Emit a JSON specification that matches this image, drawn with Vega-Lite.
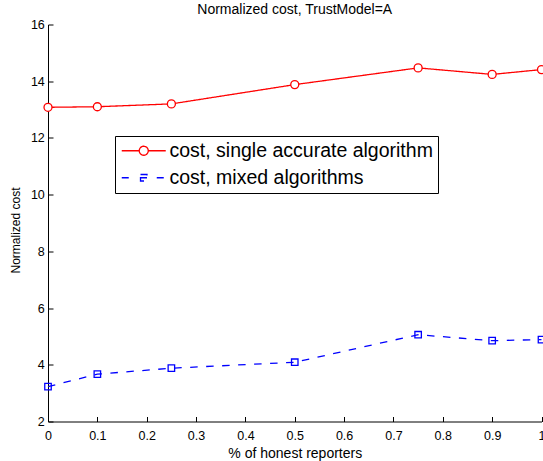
{
  "$schema": "https://vega.github.io/schema/vega-lite/v6.json",
  "autosize": {"type": "none"},
  "width": 493.5,
  "height": 397,
  "padding": {"left": 48, "top": 24.5, "right": 1.5, "bottom": 39.5},
  "background": "white",
  "title": {
    "text": "Normalized cost, TrustModel=A",
    "font": "Liberation Sans",
    "fontSize": 14,
    "fontWeight": "normal",
    "color": "black",
    "anchor": "middle",
    "frame": "group",
    "baseline": "alphabetic",
    "offset": -9
  },
  "data": {
    "values": [
      {"honest": 0, "cost": 13.08, "series": "cost, single accurate algorithm"},
      {"honest": 0.1, "cost": 13.1, "series": "cost, single accurate algorithm"},
      {"honest": 0.25, "cost": 13.2, "series": "cost, single accurate algorithm"},
      {"honest": 0.5, "cost": 13.88, "series": "cost, single accurate algorithm"},
      {"honest": 0.75, "cost": 14.47, "series": "cost, single accurate algorithm"},
      {"honest": 0.9, "cost": 14.24, "series": "cost, single accurate algorithm"},
      {"honest": 1, "cost": 14.41, "series": "cost, single accurate algorithm"},
      {"honest": 0, "cost": 3.23, "series": "cost, mixed algorithms"},
      {"honest": 0.1, "cost": 3.67, "series": "cost, mixed algorithms"},
      {"honest": 0.25, "cost": 3.88, "series": "cost, mixed algorithms"},
      {"honest": 0.5, "cost": 4.09, "series": "cost, mixed algorithms"},
      {"honest": 0.75, "cost": 5.06, "series": "cost, mixed algorithms"},
      {"honest": 0.9, "cost": 4.85, "series": "cost, mixed algorithms"},
      {"honest": 1, "cost": 4.89, "series": "cost, mixed algorithms"}
    ]
  },
  "encoding": {
    "x": {
      "field": "honest",
      "type": "quantitative",
      "scale": {"domain": [0, 1], "nice": false, "zero": false},
      "axis": {
        "title": "% of honest reporters",
        "values": [0, 0.1, 0.2, 0.3, 0.4, 0.5, 0.6, 0.7, 0.8, 0.9, 1],
        "format": "~g",
        "tickSize": -5,
        "labelPadding": 12.5,
        "labelBaseline": "top",
        "labelFlush": false,
        "labelOverlap": false,
        "titleFontSize": 14,
        "titleBaseline": "alphabetic",
        "titleX": 246.75,
        "titleY": 36,
        "titleAnchor": "middle"
      }
    },
    "y": {
      "field": "cost",
      "type": "quantitative",
      "scale": {"domain": [2, 16], "nice": false, "zero": false},
      "axis": {
        "title": "Normalized cost",
        "values": [2, 4, 6, 8, 10, 12, 14, 16],
        "format": "d",
        "tickSize": -5,
        "labelPadding": 8.7,
        "labelFlush": false,
        "labelOverlap": false,
        "titleAngle": -90,
        "titleBaseline": "alphabetic",
        "titleAlign": "center",
        "titleX": -29,
        "titleY": 205.5
      }
    }
  },
  "layer": [
    {
      "mark": {"type": "line", "strokeWidth": 1.3},
      "encoding": {
        "color": {
          "field": "series",
          "type": "nominal",
          "scale": {
            "domain": ["cost, single accurate algorithm", "cost, mixed algorithms"],
            "range": ["#ff0000", "#0000ff"]
          },
          "legend": {
            "title": null,
            "orient": "none",
            "legendX": 67,
            "legendY": 111.5,
            "strokeColor": "black",
            "fillColor": "white",
            "padding": 5,
            "labelFont": "Liberation Sans",
            "labelFontSize": 19.5,
            "labelColor": "black",
            "labelLimit": 400,
            "symbolSize": 100,
            "symbolOffset": 14,
            "labelOffset": 16,
            "rowPadding": 6,
            "symbolStrokeWidth": 1.3,
            "encoding": {
              "symbols": {
                "shape": {
                  "condition": {
                    "test": "datum.value === 'cost, single accurate algorithm'",
                    "value": "M-4.4,0H-0.9M0.9,0H4.4M-0.9,0A0.9,0.9 0 1,0 0.9,0A0.9,0.9 0 1,0 -0.9,0Z"
                  },
                  "value": "M-4.4,0H-3M2.6,0H4M-0.65,-0.65H0.65V0.65H-0.65ZM-0.65,0H0.65"
                },
                "fill": {"value": "white"},
                "strokeDash": {"value": [1, 0]},
                "strokeWidth": {"value": 1.3},
                "opacity": {"value": 1}
              }
            }
          }
        },
        "strokeDash": {
          "field": "series",
          "type": "nominal",
          "scale": {
            "domain": ["cost, single accurate algorithm", "cost, mixed algorithms"],
            "range": [[1, 0], [7.5, 8.5]]
          },
          "legend": null
        }
      }
    },
    {
      "transform": [{"filter": "datum.series === 'cost, single accurate algorithm'"}],
      "mark": {"type": "point", "shape": "circle", "size": 64, "filled": false, "fill": "white", "fillOpacity": 1, "stroke": "#ff0000", "strokeWidth": 1.3, "opacity": 1}
    },
    {
      "transform": [{"filter": "datum.series === 'cost, mixed algorithms'"}],
      "mark": {"type": "point", "shape": "square", "size": 42, "filled": false, "stroke": "#0000ff", "strokeWidth": 1.3, "opacity": 1}
    }
  ],
  "config": {
    "view": {"stroke": null},
    "font": "Liberation Sans",
    "axis": {
      "grid": false,
      "domainColor": "black",
      "domainWidth": 1,
      "tickColor": "black",
      "tickWidth": 1,
      "labelFont": "Liberation Sans",
      "labelFontSize": 12.5,
      "labelColor": "black",
      "titleFont": "Liberation Sans",
      "titleFontSize": 12,
      "titleFontWeight": "normal",
      "titleColor": "black"
    }
  }
}
